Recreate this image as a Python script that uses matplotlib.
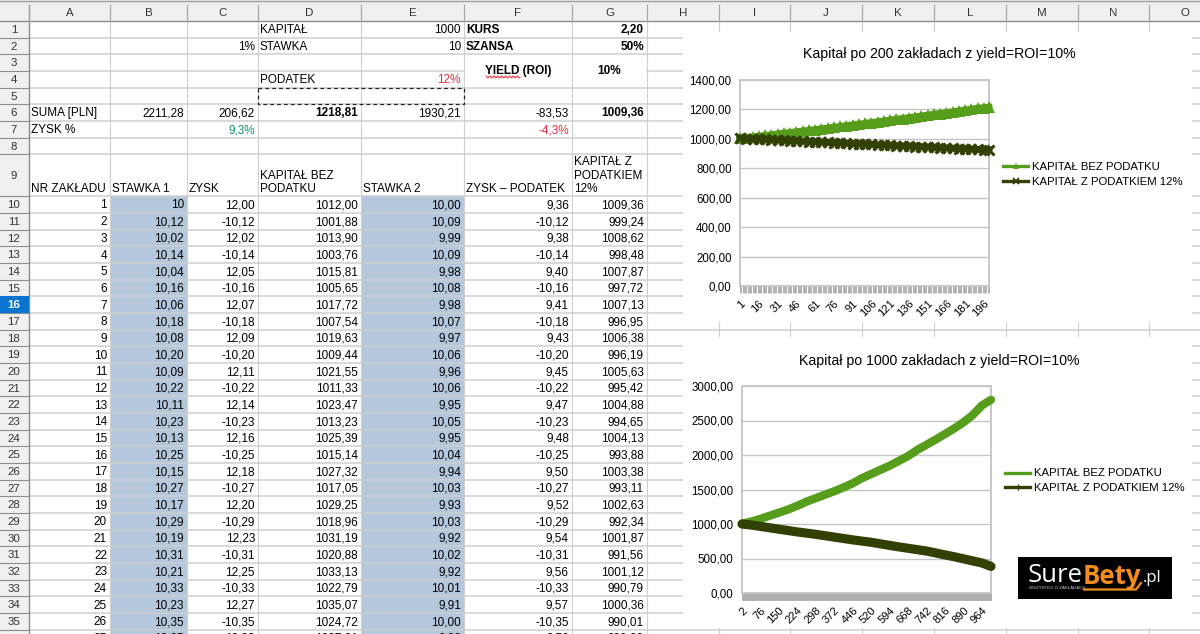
import numpy as np
import matplotlib
matplotlib.use("Agg")
import matplotlib.pyplot as plt
from matplotlib.lines import Line2D
from matplotlib.patches import Rectangle

plt.rcParams["font.family"] = ["Liberation Sans", "DejaVu Sans"]

# data: sheet columns
nr = [1, 2, 3, 4, 5, 6, 7, 8, 9, 10, 11, 12, 13, 14, 15, 16, 17, 18, 19, 20, 21, 22, 23, 24, 25, 26, 27]
stawka1 = ["10", "10,12", "10,02", "10,14", "10,04", "10,16", "10,06", "10,18", "10,08", "10,20", "10,09", "10,22", "10,11", "10,23",
           "10,13", "10,25", "10,15", "10,27", "10,17", "10,29", "10,19", "10,31", "10,21", "10,33", "10,23", "10,35", "10,25"]
zysk = ["12,00", "-10,12", "12,02", "-10,14", "12,05", "-10,16", "12,07", "-10,18", "12,09", "-10,20", "12,11", "-10,22", "12,14", "-10,23",
        "12,16", "-10,25", "12,18", "-10,27", "12,20", "-10,29", "12,23", "-10,31", "12,25", "-10,33", "12,27", "-10,35", "12,30"]
kapital_bez = ["1012,00", "1001,88", "1013,90", "1003,76", "1015,81", "1005,65", "1017,72", "1007,54", "1019,63", "1009,44", "1021,55", "1011,33", "1023,47", "1013,23",
               "1025,39", "1015,14", "1027,32", "1017,05", "1029,25", "1018,96", "1031,19", "1020,88", "1033,13", "1022,79", "1035,07", "1024,72", "1037,01"]
stawka2 = ["10,00", "10,09", "9,99", "10,09", "9,98", "10,08", "9,98", "10,07", "9,97", "10,06", "9,96", "10,06", "9,95", "10,05",
           "9,95", "10,04", "9,94", "10,03", "9,93", "10,03", "9,92", "10,02", "9,92", "10,01", "9,91", "10,00", "9,90"]
zysk_podatek = ["9,36", "-10,12", "9,38", "-10,14", "9,40", "-10,16", "9,41", "-10,18", "9,43", "-10,20", "9,45", "-10,22", "9,47", "-10,23",
                "9,48", "-10,25", "9,50", "-10,27", "9,52", "-10,29", "9,54", "-10,31", "9,56", "-10,33", "9,57", "-10,35", "9,59"]
kapital_z = ["1009,36", "999,24", "1008,62", "998,48", "1007,87", "997,72", "1007,13", "996,95", "1006,38", "996,19", "1005,63", "995,42", "1004,88", "994,65",
             "1004,13", "993,88", "1003,38", "993,11", "1002,63", "992,34", "1001,87", "991,56", "1001,12", "990,79", "1000,36", "990,01", "999,60"]
col_letters = ["A", "B", "C", "D", "E", "F", "G", "H", "I", "J", "K", "L", "M", "N", "O"]

# data: chart 1 (200 bets)
x200 = [1, 6, 11, 16, 21, 26, 31, 36, 41, 46, 51, 56, 61, 66, 71, 76, 81, 86, 91, 96, 101, 106, 111, 116, 121, 126, 131, 136, 141, 146, 151, 156, 161, 166, 171, 176, 181, 186, 191, 196, 200]
bez200 = [1004, 1008, 1013, 1018, 1023, 1028, 1033, 1038, 1043, 1048, 1053, 1058, 1063, 1068, 1073, 1079, 1084, 1089, 1095, 1100, 1105, 1111, 1116, 1122, 1127, 1133, 1138, 1144, 1149, 1155, 1161, 1167, 1172, 1178, 1184, 1190, 1196, 1202, 1208, 1212, 1215]
z200 = [1004, 1002, 1000, 998, 996, 994, 992, 990, 988, 986, 984, 982, 980, 978, 976, 974, 972, 970, 968, 966, 964, 962, 960, 958, 956, 954, 952, 950, 948, 946, 944, 942, 940, 938, 936, 934, 932, 930, 928, 926, 925]
ticks200 = [1, 16, 31, 46, 61, 76, 91, 106, 121, 136, 151, 166, 181, 196]

# data: chart 2 (1000 bets)
x1000 = [2, 39, 76, 113, 150, 187, 224, 261, 298, 335, 372, 409, 446, 483, 520, 557, 594, 631, 668, 705, 742, 779, 816, 853, 890, 927, 964, 1000]
bez1000 = [1005, 1035, 1075, 1120, 1165, 1210, 1265, 1325, 1375, 1425, 1475, 1530, 1590, 1665, 1725, 1785, 1845, 1915, 1985, 2075, 2150, 2225, 2305, 2385, 2475, 2580, 2720, 2800]
z1000 = [1000, 985, 965, 945, 925, 905, 885, 868, 850, 830, 810, 790, 770, 752, 735, 712, 690, 668, 648, 628, 608, 580, 552, 525, 495, 465, 435, 385]
ticks1000 = [2, 76, 150, 224, 298, 372, 446, 520, 594, 668, 742, 816, 890, 964]

series_names = ["KAPITAŁ BEZ PODATKU", "KAPITAŁ Z PODATKIEM 12%"]
title_200 = "Kapitał po 200 zakładach z yield=ROI=10%"
title_1000 = "Kapitał po 1000 zakładach z yield=ROI=10%"

# layout in px
W, H = 1200, 634
FS = 8.45
col_edges = [29, 110, 187, 258, 361, 464, 572, 647, 719, 790, 862, 934, 1006, 1078, 1149, 1221]
row_h = 16.67
row_top = [21 + i * row_h for i in range(9)]
row_top.append(row_top[8] + 42)
for i in range(27):
    row_top.append(row_top[-1] + row_h)

GRID = "#cfcfcf"
HEAD = "#f0f0f0"
BLUE = "#b4c7dc"
GREEN = "#579d1c"
DARK = "#314004"

fig = plt.figure(figsize=(12, 6.34), dpi=100, facecolor="white")
sheet = fig.add_axes([0, 0, 1, 1])
sheet.set_xlim(0, W)
sheet.set_ylim(H, 0)
sheet.axis("off")

# blue columns
for c in (1, 4):
    sheet.add_patch(Rectangle((col_edges[c], row_top[9]), col_edges[c + 1] - col_edges[c], H - row_top[9], fc=BLUE, ec="none", zorder=1))

# grid lines
for y in row_top[1:]:
    sheet.plot([0, W], [y, y], color=GRID, lw=1.1, zorder=2)
for x in col_edges:
    sheet.plot([x, x], [21, H], color=GRID, lw=0.8, zorder=2)

# merged cells F3:F4, G3:G4
sheet.add_patch(Rectangle((col_edges[5] + 1, row_top[2] + 1), col_edges[7] - col_edges[5] - 2, 2 * row_h - 2, fc="white", ec="none", zorder=2.5))
sheet.plot([col_edges[6], col_edges[6]], [row_top[2], row_top[4]], color=GRID, lw=0.8, zorder=3)

# headers
sheet.add_patch(Rectangle((0, 0), W, 5, fc="#ececec", ec="none", zorder=3))
sheet.add_patch(Rectangle((0, 5), W, 16, fc=HEAD, ec="none", zorder=3))
sheet.add_patch(Rectangle((0, 21), 29, H - 21, fc=HEAD, ec="none", zorder=3))
sheet.plot([0, W], [21, 21], color="#8c8c8c", lw=1.0, zorder=4)
sheet.plot([29, 29], [5, H], color="#8c8c8c", lw=1.0, zorder=4)
sheet.plot([0, W], [0.5, 0.5], color="#a0a0a0", lw=1.0, zorder=4)
for x in col_edges:
    sheet.plot([x, x], [5, 21], color="#a8a8a8", lw=0.9, zorder=4)
for i, y in enumerate(row_top[1:]):
    sheet.plot([0, 29], [y, y], color="#8c8c8c", lw=0.8, zorder=4)
for i, name in enumerate(col_letters):
    sheet.text((col_edges[i] + col_edges[i + 1]) / 2, 13.5, name, ha="center", va="center", fontsize=FS - 0.2, color="#333333", zorder=5, clip_on=True)
sheet.add_patch(Rectangle((0, row_top[15]), 29, row_h, fc="#0a74d0", ec="none", zorder=4.5))
for i in range(36):
    active = i == 15
    sheet.text(14, (row_top[i] + row_top[i + 1]) / 2 + 0.5, str(i + 1), ha="center", va="center", fontsize=FS - 0.2,
               color="white" if active else "#333333", fontweight="bold" if active else "normal", zorder=5, clip_on=True)


def cell(col, row, text, align="right", color="black", weight="normal", dy=0.8):
    yc = (row_top[row - 1] + row_top[row]) / 2 + dy
    if align == "right":
        sheet.text(col_edges[col + 1] - 3, yc, text, ha="right", va="center", fontsize=FS, color=color, fontweight=weight, zorder=6, clip_on=True)
    elif align == "left":
        sheet.text(col_edges[col] + 2, yc, text, ha="left", va="center", fontsize=FS, color=color, fontweight=weight, zorder=6, clip_on=True)


# top cells
cell(3, 1, "KAPITAŁ", "left")
cell(4, 1, "1000")
cell(5, 1, "KURS", "left", weight="bold")
cell(6, 1, "2,20", weight="bold")
cell(2, 2, "1%")
cell(3, 2, "STAWKA", "left")
cell(4, 2, "10")
cell(5, 2, "SZANSA", "left", weight="bold")
cell(6, 2, "50%", weight="bold")
cell(3, 4, "PODATEK", "left")
cell(4, 4, "12%", color="#e0303f")
sheet.text(518, 71, "YIELD (ROI)", ha="center", va="center", fontsize=FS, fontweight="bold", zorder=6)
sheet.text(609, 71, "10%", ha="center", va="center", fontsize=FS, fontweight="bold", zorder=6)
wave_x = np.linspace(486, 520, 70)
sheet.plot(wave_x, 77 + 1.0 * np.sin(wave_x * 1.6), color="#e0303f", lw=0.7, zorder=6)
sheet.add_patch(Rectangle((col_edges[3], row_top[4]), col_edges[5] - col_edges[3], row_h, fc="none", ec="#222222", lw=0.9, ls=(0, (3, 2.5)), zorder=6))

cell(0, 6, "SUMA [PLN]", "left")
cell(1, 6, "2211,28")
cell(2, 6, "206,62")
cell(3, 6, "1218,81", weight="bold")
cell(4, 6, "1930,21")
cell(5, 6, "-83,53")
cell(6, 6, "1009,36", weight="bold")
cell(0, 7, "ZYSK %", "left")
cell(2, 7, "9,3%", color="#109070")
cell(5, 7, "-4,3%", color="#e0303f")

# column titles of row 9
y_last = row_top[9] - 7.5
for col, lines in [(0, ["NR ZAKŁADU"]), (1, ["STAWKA 1"]), (2, ["ZYSK"]), (3, ["KAPITAŁ BEZ", "PODATKU"]),
                   (4, ["STAWKA 2"]), (5, ["ZYSK – PODATEK"]), (6, ["KAPITAŁ Z", "PODATKIEM", "12%"])]:
    for k, line in enumerate(reversed(lines)):
        sheet.text(col_edges[col] + 2, y_last - k * 13.3, line, ha="left", va="center", fontsize=FS, zorder=6)

# table body
for i in range(len(nr)):
    row = 10 + i
    cell(0, row, str(nr[i]))
    cell(1, row, stawka1[i])
    cell(2, row, zysk[i])
    cell(3, row, kapital_bez[i])
    cell(4, row, stawka2[i])
    cell(5, row, zysk_podatek[i])
    cell(6, row, kapital_z[i])

# white chart backgrounds over the sheet
sheet.add_patch(Rectangle((683, 32), 509, 290, fc="white", ec="none", zorder=7))
sheet.add_patch(Rectangle((683, 337), 509, 291, fc="white", ec="none", zorder=7))
sheet.text(939, 54, title_200, ha="center", va="center", fontsize=10.15, zorder=8)
sheet.text(939, 361, title_1000, ha="center", va="center", fontsize=10.15, zorder=8)


def chart_axes(left, top, right, bottom):
    ax = fig.add_axes([left / W, 1 - bottom / H, (right - left) / W, (bottom - top) / H])
    ax.patch.set_alpha(0)
    for s in ax.spines.values():
        s.set_color("#c8c8c8")
        s.set_linewidth(1.4)
    ax.grid(True, axis="y", color="#c4c4c4", lw=1.0)
    ax.set_axisbelow(True)
    ax.tick_params(axis="y", length=0, pad=6, labelsize=8.3)
    ax.tick_params(axis="x", which="major", length=5, width=0.7, color="#b0b0b0", pad=4, labelsize=8.0)
    ax.tick_params(axis="x", which="minor", length=5, width=0.7, color="#b0b0b0")
    return ax


def finish_axes(ax, xticks, minor, ymax, ystep):
    ax.set_xticks(xticks)
    ax.set_xticks(minor, minor=True)
    ax.set_xticklabels([str(t) for t in xticks], rotation=45, ha="right", rotation_mode="anchor")
    ax.set_ylim(0, ymax)
    yt = np.arange(0, ymax + 1, ystep)
    ax.set_yticks(yt)
    ax.set_yticklabels([f"{v:.2f}".replace(".", ",") for v in yt])


# chart 1
ax1 = chart_axes(740, 80, 989, 286)
ax1.plot(x200, bez200, color=GREEN, lw=5.0, marker="^", ms=8.5, mew=0, clip_on=False, zorder=5)
ax1.plot(x200, z200, color=DARK, lw=5.0, marker="x", ms=7.5, mew=2.2, clip_on=False, zorder=6)
ax1.set_xlim(1, 200)
finish_axes(ax1, ticks200, np.arange(1, 201), 1400, 200)
h1 = [Line2D([], [], color=GREEN, lw=2.4, marker="^", ms=5, mew=0),
      Line2D([], [], color=DARK, lw=2.4, marker="x", ms=5, mew=1.3)]
fig.legend(h1, series_names, loc="upper left", bbox_to_anchor=(1003 / W, 1 - 162 / H), frameon=False, fontsize=8.2,
           handlelength=2.2, handletextpad=0.35, labelspacing=0.42, borderpad=0, borderaxespad=0)

# chart 2
ax2 = chart_axes(742, 386, 991, 593)
ax2.plot(x1000, bez1000, color=GREEN, lw=6.0, solid_capstyle="round", clip_on=False, zorder=5)
ax2.plot(x1000, z1000, color=DARK, lw=6.6, solid_capstyle="round", clip_on=False, zorder=6)
ax2.set_xlim(2, 1000)
finish_axes(ax2, ticks1000, np.arange(2, 1001), 3000, 500)
h2 = [Line2D([], [], color=GREEN, lw=2.4),
      Line2D([], [], color=DARK, lw=2.4, marker="+", ms=5, mew=1.0)]
fig.legend(h2, series_names, loc="upper left", bbox_to_anchor=(1005 / W, 1 - 468.5 / H), frameon=False, fontsize=8.2,
           handlelength=2.2, handletextpad=0.35, labelspacing=0.42, borderpad=0, borderaxespad=0)

# logo
sheet.add_patch(Rectangle((1018, 557), 154, 42, fc="black", ec="none", zorder=9))
sheet.text(1028, 576, "Sure", color="white", fontsize=18.5, family="Open Sans", ha="left", va="center", zorder=10)
sheet.text(1083, 576, "Bety", color="#f28c1e", fontsize=18.5, fontweight="bold", family="Open Sans", ha="left", va="center", zorder=10)
sheet.text(1143, 578, ".pl", color="white", fontsize=12, family="Open Sans", ha="left", va="center", zorder=10)
sheet.text(1029, 588, "WSZYSTKO O ZAKŁADACH", color="#cccccc", fontsize=3.2, ha="left", va="center", zorder=10)
sheet.plot([1084, 1130, 1136, 1141], [589.5, 589.5, 589.5, 583], color="#f28c1e", lw=1.6, zorder=10)

fig.savefig("out.png", dpi=100)
